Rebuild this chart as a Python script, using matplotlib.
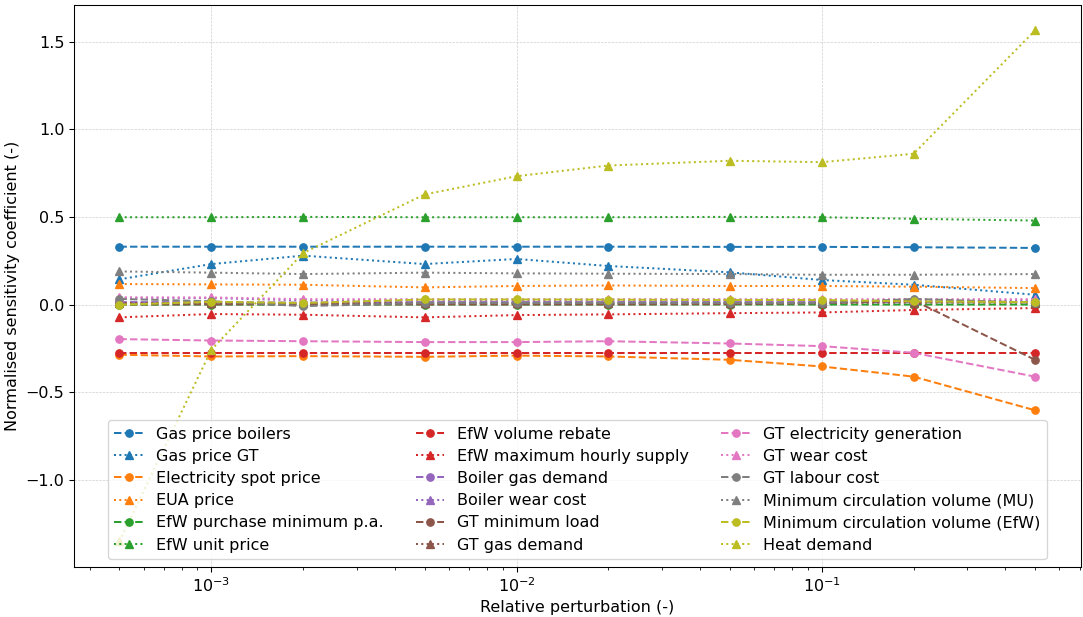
import numpy as np
import matplotlib
matplotlib.use("Agg")
import matplotlib.pyplot as plt

perturbation = [5e-4, 1e-3, 2e-3, 5e-3, 1e-2, 2e-2, 5e-2, 1e-1, 2e-1, 5e-1]

labels = [
    "Gas price boilers", "Gas price GT",
    "Electricity spot price", "EUA price",
    "EfW purchase minimum p.a.", "EfW unit price",
    "EfW volume rebate", "EfW maximum hourly supply",
    "Boiler gas demand", "Boiler wear cost",
    "GT minimum load", "GT gas demand",
    "GT electricity generation", "GT wear cost",
    "GT labour cost", "Minimum circulation volume (MU)",
    "Minimum circulation volume (EfW)", "Heat demand",
]

gas_price_boilers = [0.331, 0.331, 0.331, 0.331, 0.331, 0.331, 0.330, 0.330, 0.328, 0.324]
gas_price_gt = [0.145, 0.232, 0.280, 0.232, 0.261, 0.221, 0.185, 0.141, 0.114, 0.057]
electricity_spot = [-0.285, -0.295, -0.293, -0.297, -0.290, -0.295, -0.314, -0.352, -0.410, -0.602]
eua_price = [0.118, 0.116, 0.114, 0.099, 0.107, 0.110, 0.107, 0.107, 0.103, 0.095]
efw_purchase_min = [0.000, 0.001, 0.000, 0.001, 0.001, 0.001, 0.001, 0.001, 0.001, 0.001]
efw_unit_price = [0.499, 0.499, 0.501, 0.499, 0.499, 0.499, 0.501, 0.499, 0.490, 0.480]
efw_volume_rebate = [-0.274, -0.274, -0.274, -0.274, -0.274, -0.274, -0.274, -0.274, -0.274, -0.274]
efw_max_hourly = [-0.072, -0.053, -0.057, -0.072, -0.059, -0.055, -0.048, -0.044, -0.030, -0.019]
boiler_gas_demand = [0.015, 0.015, 0.012, 0.015, 0.015, 0.015, 0.015, 0.015, 0.015, 0.015]
boiler_wear_cost = [0.040, 0.038, 0.025, 0.025, 0.025, 0.025, 0.025, 0.025, 0.025, 0.025]
gt_min_load = [0.002, 0.002, 0.003, 0.002, 0.002, 0.002, 0.004, 0.008, 0.025, -0.314]
gt_gas_demand = [0.010, 0.010, 0.008, 0.010, 0.010, 0.010, 0.010, 0.010, 0.012, 0.012]
gt_electricity = [-0.196, -0.204, -0.208, -0.213, -0.213, -0.208, -0.221, -0.236, -0.274, -0.410]
gt_wear_cost = [0.042, 0.042, 0.032, 0.032, 0.032, 0.032, 0.032, 0.032, 0.032, 0.032]
gt_labour_cost = [0.033, 0.020, -0.008, 0.010, 0.010, 0.010, 0.010, 0.010, 0.033, 0.012]
min_circ_mu = [0.190, 0.183, 0.175, 0.183, 0.179, 0.177, 0.175, 0.171, 0.171, 0.175]
min_circ_efw = [0.000, 0.017, 0.010, 0.030, 0.030, 0.029, 0.027, 0.027, 0.019, 0.015]
heat_demand = [-1.350, -0.257, 0.295, 0.629, 0.733, 0.794, 0.821, 0.813, 0.861, 1.564]

series = [
    gas_price_boilers, gas_price_gt, electricity_spot, eua_price,
    efw_purchase_min, efw_unit_price, efw_volume_rebate, efw_max_hourly,
    boiler_gas_demand, boiler_wear_cost, gt_min_load, gt_gas_demand,
    gt_electricity, gt_wear_cost, gt_labour_cost, min_circ_mu,
    min_circ_efw, heat_demand,
]

plt.rcParams["font.size"] = 12

fig, ax = plt.subplots(figsize=(1083 / 96, 617 / 96), dpi=96)
fig.subplots_adjust(left=0.068, right=0.998, top=0.992, bottom=0.081)

for i, (lab, vals) in enumerate(zip(labels, series)):
    color = "C%d" % (i // 2)
    if i % 2 == 0:
        ax.plot(perturbation, vals, "--", marker="o", color=color, markersize=5.5, label=lab)
    else:
        ax.plot(perturbation, vals, ":", marker="^", color=color, markersize=5.5, label=lab)

ax.set_xscale("log")
ax.set_xlabel("Relative perturbation (-)")
ax.set_ylabel("Normalised sensitivity coefficient (-)")
ax.grid(True, linestyle="--", linewidth=0.5, color="#cccccc")
ax.legend(loc="lower center", ncol=3, fontsize=12, labelspacing=0.45, handlelength=1.8)

fig.savefig("out.png", dpi=96)
